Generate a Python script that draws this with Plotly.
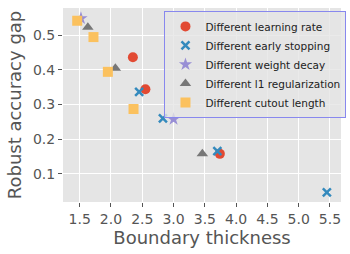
import plotly.graph_objects as go

lr_x = [2.35, 2.55, 3.74]
lr_y = [0.436, 0.344, 0.158]
es_x = [2.45, 2.83, 3.70, 5.45]
es_y = [0.336, 0.260, 0.166, 0.047]
wd_x = [1.52, 3.00]
wd_y = [0.548, 0.258]
l1_x = [1.63, 2.07, 3.46]
l1_y = [0.522, 0.404, 0.158]
co_x = [1.46, 1.72, 1.95, 2.36]
co_y = [0.541, 0.494, 0.394, 0.287]

series = [
    ("Different learning rate", lr_x, lr_y, "circle", 10, "#E24A33"),
    ("Different early stopping", es_x, es_y, "x-thin", 8, "#348ABD"),
    ("Different weight decay", wd_x, wd_y, "star", 10, "#988ED5"),
    ("Different l1 regularization", l1_x, l1_y, "triangle-up", 10, "#777777"),
    ("Different cutout length", co_x, co_y, "square", 10, "#FBC15E"),
]

fig = go.Figure()
for name, xs, ys, sym, size, col in series:
    if sym == "x-thin":
        marker = dict(symbol=sym, size=size, color=col, line=dict(color=col, width=2.5))
    else:
        marker = dict(symbol=sym, size=size, color=col, line=dict(width=0))
    fig.add_trace(go.Scatter(x=xs, y=ys, mode="markers", name=name, marker=marker))

axis_common = dict(
    showgrid=True, gridcolor="white", gridwidth=1, zeroline=False,
    ticks="outside", ticklen=4, tickcolor="#555555", tickwidth=1,
    tickfont=dict(family="DejaVu Sans", size=14, color="#555555"),
    showline=False, automargin=False,
)

fig.update_layout(
    width=350, height=254,
    margin=dict(l=63, r=9, t=8, b=52, autoexpand=False),
    plot_bgcolor="#E5E5E5", paper_bgcolor="white",
    font=dict(family="DejaVu Sans", color="#555555"),
    xaxis=dict(range=[1.233, 5.676], tickvals=[1.5, 2.0, 2.5, 3.0, 3.5, 4.0, 4.5, 5.0, 5.5],
               ticktext=["1.5", "2.0", "2.5", "3.0", "3.5", "4.0", "4.5", "5.0", "5.5"],
               title=dict(text="Boundary thickness", font=dict(size=18, color="#555555"), standoff=4),
               **axis_common),
    yaxis=dict(range=[0.0194, 0.5777], tickvals=[0.1, 0.2, 0.3, 0.4, 0.5],
               ticktext=["0.1", "0.2", "0.3", "0.4", "0.5"],
               title=dict(text="Robust accuracy gap", font=dict(size=18, color="#555555"), standoff=6),
               **axis_common),
    legend=dict(x=0.365, y=0.985, xanchor="left", yanchor="top",
                bgcolor="rgba(229,229,229,0.8)", bordercolor="#8888EE", borderwidth=1,
                font=dict(family="DejaVu Sans", size=10.5, color="#222222"),
                tracegroupgap=0),
    showlegend=True,
)

fig.write_html("out.html", config={"displayModeBar": False},
               post_script="document.body.style.margin='0';document.body.style.overflow='hidden';")
